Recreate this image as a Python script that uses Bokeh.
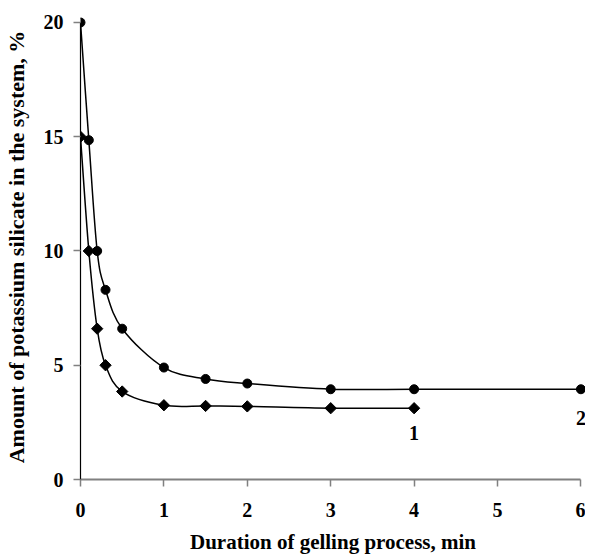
import math
from bokeh.plotting import figure
from bokeh.models import Range1d, FixedTicker, Label
from bokeh.embed import file_html
from bokeh.resources import INLINE

# Data
time_1 = [0, 0.1, 0.2, 0.3, 0.5, 1, 1.5, 2, 3, 4]
silicate_1 = [15.0, 10.0, 6.6, 5.0, 3.85, 3.25, 3.22, 3.2, 3.12, 3.12]
time_2 = [0, 0.1, 0.2, 0.3, 0.5, 1, 1.5, 2, 3, 4, 6]
silicate_2 = [20.0, 14.85, 10.0, 8.3, 6.6, 4.9, 4.4, 4.2, 3.95, 3.95, 3.95]
curve_names = ["1", "2"]
label_x = [4, 6]
label_y = [2.05, 2.7]
x_ticks = [0, 1, 2, 3, 4, 5, 6]
y_ticks = [0, 5, 10, 15, 20]

FONT = "Liberation Serif"


def smooth_segments(xs, ys):
    """Catmull-Rom style Bezier control points (smoothed-line rendering)."""
    n = len(xs)
    seg = {k: [] for k in ("x0", "y0", "x1", "y1", "cx0", "cy0", "cx1", "cy1")}
    for i in range(n - 1):
        i0 = max(i - 1, 0)
        i3 = min(i + 2, n - 1)
        seg["x0"].append(xs[i]); seg["y0"].append(ys[i])
        seg["x1"].append(xs[i + 1]); seg["y1"].append(ys[i + 1])
        seg["cx0"].append(xs[i] + (xs[i + 1] - xs[i0]) / 6)
        seg["cy0"].append(ys[i] + (ys[i + 1] - ys[i0]) / 6)
        seg["cx1"].append(xs[i + 1] - (xs[i3] - xs[i]) / 6)
        seg["cy1"].append(ys[i + 1] - (ys[i3] - ys[i]) / 6)
    return seg


p = figure(width=575, height=555, frame_width=505, frame_height=465,
           output_backend="svg", toolbar_location=None,
           x_range=Range1d(0, 6.055), y_range=Range1d(0, 20.35),
           min_border_left=70, min_border_right=0, min_border_top=14,
           min_border_bottom=76)
p.outline_line_color = None
p.xgrid.visible = False
p.ygrid.visible = False
p.background_fill_color = "white"
p.border_fill_color = "white"

for ax in (p.xaxis[0], p.yaxis[0]):
    ax.major_label_text_font = FONT
    ax.major_label_text_font_style = "bold"
    ax.major_label_text_font_size = "20px"
    ax.major_label_text_color = "black"
    ax.axis_label_text_font = FONT
    ax.axis_label_text_font_style = "bold"
    ax.axis_label_text_color = "black"
    ax.minor_tick_line_color = None
    ax.major_tick_in = 0
    ax.major_tick_out = 7
    ax.major_tick_line_color = "#808080"
    ax.major_tick_line_width = 1.5

p.xaxis.axis_label_text_font_size = "21px"
p.yaxis.axis_label_text_font_size = "22px"
p.xaxis.ticker = FixedTicker(ticks=x_ticks)
p.yaxis.ticker = FixedTicker(ticks=y_ticks)
p.xaxis.bounds = (0, 6)
p.yaxis.bounds = (0, 20)
p.xaxis.axis_line_color = "#808080"
p.xaxis.axis_line_width = 2
p.yaxis.axis_line_color = "black"
p.yaxis.axis_line_width = 1.2
p.xaxis.major_label_standoff = 16
p.yaxis.major_label_standoff = 10
p.xaxis.axis_label = "Duration of gelling process, min"
p.yaxis.axis_label = "Amount of potassium silicate in the system, %"
p.xaxis.axis_label_standoff = 10
p.yaxis.axis_label_standoff = 12

for xs, ys in ((time_1, silicate_1), (time_2, silicate_2)):
    s = smooth_segments(xs, ys)
    p.bezier(x0=s["x0"], y0=s["y0"], x1=s["x1"], y1=s["y1"],
             cx0=s["cx0"], cy0=s["cy0"], cx1=s["cx1"], cy1=s["cy1"],
             line_color="black", line_width=1.5)

p.scatter(time_1, silicate_1, marker="square", angle=math.pi / 4, size=8,
          fill_color="black", line_color="black")
p.scatter(time_2, silicate_2, marker="circle", size=9, fill_color="black", line_color="black")

for name, lx, ly in zip(curve_names, label_x, label_y):
    p.add_layout(Label(x=lx, y=ly, text=name, text_font=FONT, text_font_style="bold",
                       text_font_size="20px", text_align="center", text_baseline="middle",
                       text_color="black"))

open("out.html", "w").write(file_html(p, INLINE))
